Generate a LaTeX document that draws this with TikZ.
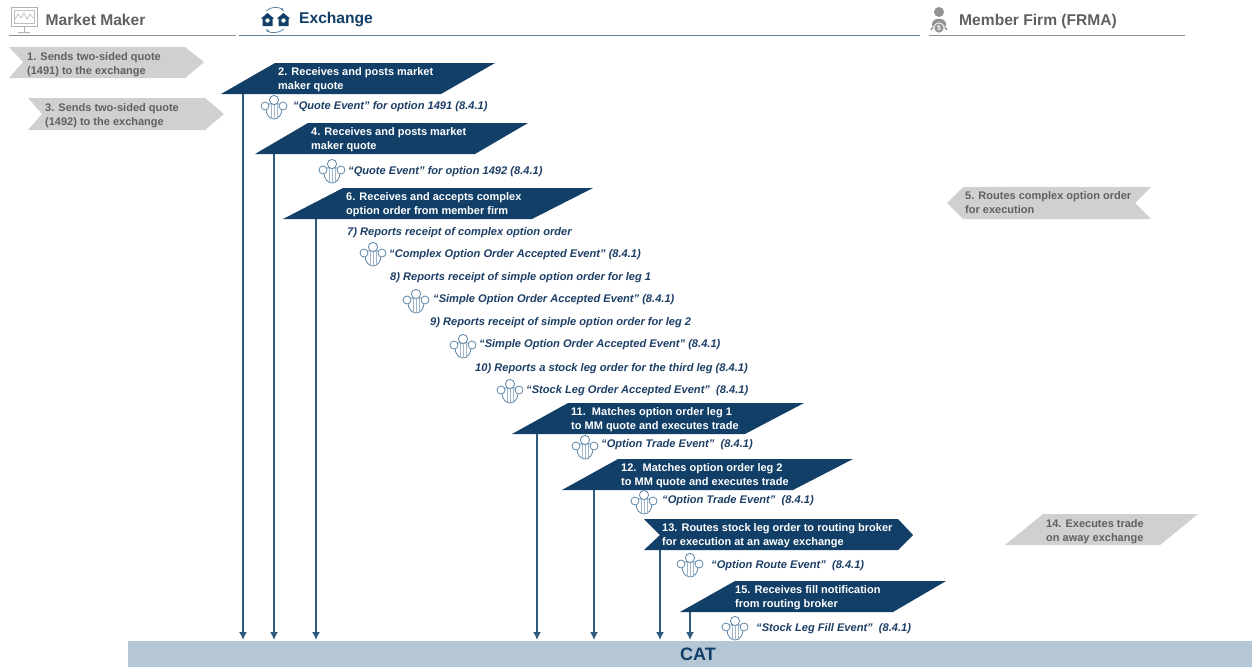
\documentclass[tikz,border=0pt]{standalone}
\usepackage{fontspec}
\setmainfont{Liberation Sans}
\usetikzlibrary{arrows.meta,calc}
\definecolor{navy}{HTML}{123F68}
\definecolor{tagbg}{HTML}{D0D0D0}
\definecolor{taginkc}{HTML}{5F6062}
\definecolor{evtc}{HTML}{1D3F66}
\definecolor{linec}{HTML}{2F5B7E}
\definecolor{barc}{HTML}{B5C6D4}
\definecolor{iconc}{HTML}{5F86A8}
\definecolor{rulec}{HTML}{8C9299}
\tikzset{
  x=1pt,y=-1pt,
  flag/.style={fill=navy,draw=none},
  gflag/.style={fill=tagbg,draw=none},
  steptext/.style={anchor=west,align=left,inner sep=0pt,text=white,font=\fontsize{11}{14}\selectfont\bfseries},
  tagtext/.style={anchor=west,align=left,inner sep=0pt,text=taginkc,font=\fontsize{11}{14}\selectfont\bfseries},
  evttext/.style={anchor=west,inner sep=0pt,text=evtc,font=\fontsize{11.1}{12}\selectfont\bfseries\itshape},
  headtext/.style={anchor=west,inner sep=0pt,font=\fontsize{15.6}{17}\selectfont\bfseries},
  toCAT/.style={draw=linec,line width=1.5pt,-{Latex[length=8pt,width=8pt]},shorten >=1pt},
  hrule/.style={line width=1.2pt},
  people/.pic={
    \begin{scope}[draw=iconc,line width=.8pt,fill=white]
      \filldraw (-8,-3) -- (-8,2) .. controls (-8,8) and (-4,12) .. (0,12) .. controls (4,12) and (8,8) .. (8,2) -- (8,-3) -- cycle;
      \draw[draw=iconc!60] (-3,-3) -- (-3,11.5) (0,-3) -- (0,12) (3,-3) -- (3,11.5);
      \filldraw (-9,-1) circle[radius=4];
      \filldraw (9,-1) circle[radius=4];
      \filldraw (0,-7) circle[radius=4.6];
    \end{scope}
  }
}
\begin{document}
\begin{tikzpicture}
\useasboundingbox (0,0) rectangle (1252,667);
\fill[white] (0,0) rectangle (1252,667);

% header rules
\draw[hrule,draw=rulec] (9,35.5) -- (236,35.5);
\draw[hrule,draw=linec!75] (239,35.5) -- (920,35.5);
\draw[hrule,draw=rulec] (929,35.5) -- (1185,35.5);

% header icons
\draw[draw=gray!60,line width=.9pt] (11,7) rectangle (37,26);
\draw[draw=gray!50,line width=.6pt] (14,10) rectangle (34,23);
\draw[draw=gray!60,line width=.6pt] (15,19) -- (18,14) -- (21,18) -- (24,13) -- (27,19) -- (30,14) -- (33,18);
\draw[draw=gray!60,line width=.8pt] (18,32) -- (30,32) (24,26) -- (24,32);
% exchange
\foreach \hx in {267.5,283.5}{
  \fill[navy] (\hx-6.5,18.5) -- (\hx,13) -- (\hx+6.5,18.5) -- (\hx+5,18.5) -- (\hx+5,26) -- (\hx-5,26) -- (\hx-5,18.5) -- cycle;
  \fill[white] (\hx,20.5) circle[radius=2.2];
}
\draw[draw=iconc,line width=.8pt,-{Latex[length=3pt,width=3pt]}] (266,11) .. controls (270,6.5) and (279,6.5) .. (284,11);
\draw[draw=iconc,line width=.8pt,-{Latex[length=3pt,width=3pt]}] (284,29) .. controls (279,33.5) and (270,33.5) .. (266,29);
% member firm
\fill[gray!85] (939,12) circle[radius=5];
\fill[gray!85] (932,24) .. controls (932,17) and (946,17) .. (946,24) -- (946,26) -- (932,26) -- cycle;
\draw[draw=gray!85,line width=1.4pt] (931,30) .. controls (932,25) and (946,25) .. (947,30);
\filldraw[fill=gray!85,draw=white,line width=.8pt] (939,28) circle[radius=5.2];
\node[inner sep=0pt,text=white,font=\fontsize{7}{7}\selectfont\bfseries] (dollar) at (939,28) {\$};

\node[headtext,text=taginkc] (hmm) at (45.5,19.5) {Market Maker};
\node[headtext,text=navy] (hex) at (299,19.5) {Exchange};
\node[headtext,text=taginkc] (hmf) at (959,21.5) {Member Firm (FRMA)};

% connectors' start points
\coordinate (a2) at (243,94);
\coordinate (a4) at (274,154);
\coordinate (a6) at (316,219);
\coordinate (a11) at (537,434);
\coordinate (a12) at (594,490);
\coordinate (a13) at (660,550);
\coordinate (a15) at (690,612);

% CAT bar
\fill[barc] (128,641) rectangle (1252,667);
\node[inner sep=0pt,text=navy,font=\fontsize{18}{19}\selectfont\bfseries] (cat) at (698,654.5) {CAT};
\coordinate (catTop) at (698,641);

\foreach \s in {a2,a4,a6,a11,a12,a13,a15}{
  \draw[toCAT] (\s) -- (\s |- catTop);
}

% grey tags
\fill[gflag] (9,47) -- (185,47) -- (204,62) -- (185,78) -- (9,78) -- (23,62) -- cycle;
\node[tagtext] (t1) at (27,64.5) {1. Sends two-sided quote\\(1491) to the exchange};
\fill[gflag] (28,98) -- (205,98) -- (224,114) -- (205,130) -- (28,130) -- (42,114) -- cycle;
\node[tagtext] (t3) at (45,115.5) {3. Sends two-sided quote\\(1492) to the exchange};
\fill[gflag] (947,203) -- (963,187) -- (1151,187) -- (1135,203) -- (1151,219) -- (963,219) -- cycle;
\node[tagtext] (t5) at (965,203) {5. Routes complex option order\\for execution};
\fill[gflag] (1005,545) -- (1043,514) -- (1198,514) -- (1160,545) -- cycle;
\node[tagtext] (t14) at (1046,532) {14. Executes trade\\on away exchange};

% navy flags
\fill[flag] (221,94) -- (275,63) -- (495,63) -- (441,94) -- cycle;
\node[steptext] (s2) at (278,80) {2. Receives and posts market\\maker quote};
\fill[flag] (255,154) -- (308,123) -- (528,123) -- (475,154) -- cycle;
\node[steptext] (s4) at (311,140) {4. Receives and posts market\\maker quote};
\fill[flag] (283,219) -- (343,188) -- (593,188) -- (532,219) -- cycle;
\node[steptext] (s6) at (346,205) {6. Receives and accepts complex\\option order from member firm};
\fill[flag] (512,434) -- (568,403) -- (804,403) -- (745,434) -- cycle;
\node[steptext] (s11) at (571,420) {11.\ \ Matches option order leg 1\\to MM quote and executes trade};
\fill[flag] (562,490) -- (618,459) -- (853,459) -- (793,490) -- cycle;
\node[steptext] (s12) at (621,476) {12.\ \ Matches option order leg 2\\to MM quote and executes trade};
\fill[flag] (644,519) -- (898,519) -- (913,535) -- (898,550) -- (644,550) -- (660,535) -- cycle;
\node[steptext] (s13) at (662,536) {13. Routes stock leg order to routing broker\\for execution at an away exchange};
\fill[flag] (680,612) -- (735,581) -- (946,581) -- (893,612) -- cycle;
\node[steptext] (s15) at (735,598) {15. Receives fill notification\\from routing broker};

% icons
\foreach \ix/\iy in {274/107,332/171,373/254,416/301,463/346,510/391,585/447,644/502,690/565,735/628}{
  \pic at (\ix,\iy) {people};
}

% event text
\node[evttext] (e2) at (293,106.5) {“Quote Event” for option 1491 (8.4.1)};
\node[evttext] (e4) at (348,171.5) {“Quote Event” for option 1492 (8.4.1)};
\node[evttext] (r7) at (347,232.5) {7) Reports receipt of complex option order};
\node[evttext] (e7) at (389,254.5) {“Complex Option Order Accepted Event” (8.4.1)};
\node[evttext] (r8) at (390,277.5) {8) Reports receipt of simple option order for leg 1};
\node[evttext] (e8) at (433,299.5) {“Simple Option Order Accepted Event” (8.4.1)};
\node[evttext] (r9) at (430,322.5) {9) Reports receipt of simple option order for leg 2};
\node[evttext] (e9) at (479,344.5) {“Simple Option Order Accepted Event” (8.4.1)};
\node[evttext] (r10) at (475,368.5) {10) Reports a stock leg order for the third leg (8.4.1)};
\node[evttext] (e10) at (526,390.5) {“Stock Leg Order Accepted Event”\ \ (8.4.1)};
\node[evttext] (e11) at (601,444.5) {“Option Trade Event”\ \ (8.4.1)};
\node[evttext] (e12) at (662,500.5) {“Option Trade Event”\ \ (8.4.1)};
\node[evttext] (e13) at (711,565.5) {“Option Route Event”\ \ (8.4.1)};
\node[evttext] (e15) at (756,628.5) {“Stock Leg Fill Event”\ \ (8.4.1)};
\end{tikzpicture}
\end{document}
